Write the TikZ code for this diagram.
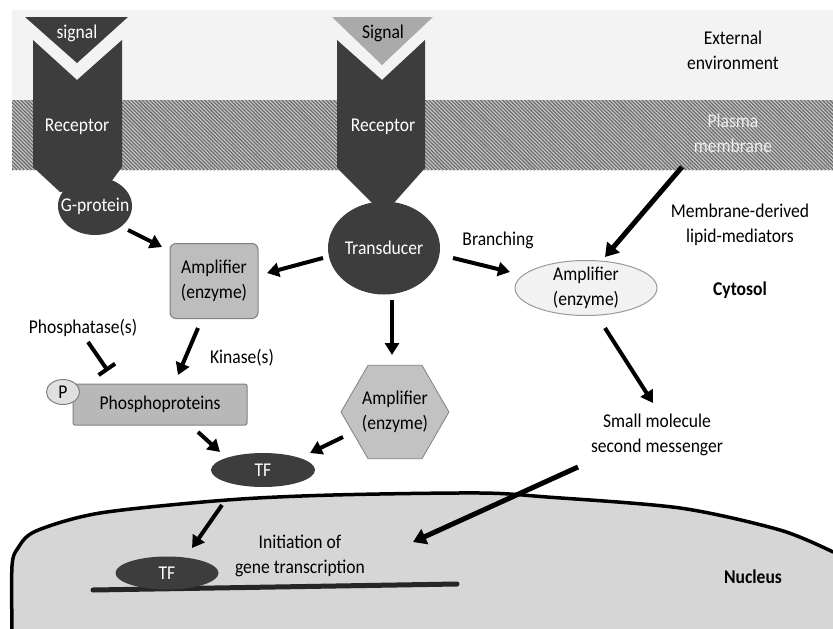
\documentclass[tikz,border=0pt]{standalone}
\usepackage{fontspec}
\setmainfont{Carlito}[FakeStretch=0.9]
\usetikzlibrary{shapes.geometric,arrows.meta,calc,patterns.meta}
\definecolor{dk}{HTML}{3D3D3D}
\definecolor{extc}{HTML}{F3F3F3}
\definecolor{memdk}{HTML}{707070}
\definecolor{memlt}{HTML}{CDCDCD}
\definecolor{sigc}{HTML}{AAAAAA}
\definecolor{ampc}{HTML}{BDBDBD}
\definecolor{ampb}{HTML}{808080}
\definecolor{hexc}{HTML}{C2C2C2}
\definecolor{phc}{HTML}{B8B8B8}
\definecolor{pcc}{HTML}{E0E0E0}
\definecolor{a3c}{HTML}{F2F2F2}
\definecolor{a3b}{HTML}{9A9A9A}
\definecolor{nucc}{HTML}{D6D6D6}
\definecolor{dna}{HTML}{262626}
\definecolor{memtext}{HTML}{EDEDED}
\begin{document}
\begin{tikzpicture}[x=1pt,y=-1pt,
  every node/.style={font=\fontsize{19.5}{25}\selectfont, inner sep=0pt, outer sep=0pt},
  lbl/.style={align=center, text=black},
  wlbl/.style={align=center, text=white},
  bld/.style={align=center, font=\fontsize{19.5}{25}\selectfont\bfseries},
  darkell/.style={ellipse, fill=dk, text=white},
  arr/.style={line width=4pt, -{Triangle[length=12pt,width=14pt]}},
  inhib/.style={line width=4pt, -{Bar[width=20pt]}}]
\useasboundingbox (0,0) rectangle (833,629);
\fill[white] (0,0) rectangle (833,629);
% external environment
\fill[extc] (12,10) rectangle (833,100);
% plasma membrane
\fill[memdk] (12,100) rectangle (833,170);
\fill[pattern={Lines[angle=-45,distance=2.6pt,line width=1pt]}, pattern color=memlt] (12,100) rectangle (833,170);
% nucleus
\fill[nucc] plot[smooth] coordinates {(12,629)(12,566)(18,548)(36,531)(100,513)(227,500)(333,495)(480,493)(547,497)(680,508)(780,530)(833,552)} -- (833,629) -- cycle;
\draw[line width=3.5pt, line cap=round] plot[smooth] coordinates {(12,629)(12,566)(18,548)(36,531)(100,513)(227,500)(333,495)(480,493)(547,497)(680,508)(780,530)(833,552)};
% DNA
\draw[line width=5pt, dna, line cap=round] (93,590) -- (457,584);
% left receptor
\fill[dk] (25,17) -- (128,17) -- (77,63) -- cycle;
\fill[dk] (33,40) -- (77,80) -- (122,40) -- (122,167) -- (108,186) -- (60,192) -- (33,167) -- cycle;
% right receptor
\fill[sigc] (332,17) -- (433,17) -- (382,65) -- cycle;
\fill[dk] (337,40) -- (382,80) -- (425,40) -- (425,168) -- (393,204) -- (373,204) -- (337,168) -- cycle;
% nodes
\node[lbl, text=white] (sig1) at (77,33) {signal};
\node[lbl] (sig2) at (383,33) {Signal};
\node[wlbl] (rec1) at (77,127) {Receptor};
\node[wlbl] (rec2) at (383,127) {Receptor};
\node[darkell, minimum width=74pt, minimum height=58pt] (gprot) at (95,206) {};
\node[wlbl] (gprott) at (gprot) {G-protein};
\node[darkell, minimum width=112pt, minimum height=93pt] (trans) at (384,248) {Transducer};
\node[rectangle, rounded corners=6pt, fill=ampc, draw=ampb, line width=1pt, minimum width=88pt, minimum height=75pt, align=center] (amp1) at (214,281) {Amplifier\\(enzyme)};
\node[regular polygon, regular polygon sides=6, minimum size=104pt, fill=hexc, draw=ampb, line width=0.8pt, align=center] (hex) at (395,412) {Amplifier\\(enzyme)};
\node[ellipse, fill=a3c, draw=a3b, line width=1pt, minimum width=142pt, minimum height=55pt] (amp3) at (586,288) {};
\node[lbl] (amp3t) at (amp3) {Amplifier\\(enzyme)};
\node[rectangle, rounded corners=2pt, fill=phc, draw=ampb, line width=1pt, minimum width=174pt, minimum height=41pt] (phos) at (160,404.5) {Phosphoproteins};
\node[ellipse, fill=pcc, draw=ampb, line width=1pt, minimum width=33pt, minimum height=25pt] (pcirc) at (63,392) {P};
\node[darkell, minimum width=104pt, minimum height=34pt] (tf1) at (263,470) {TF};
\node[darkell, minimum width=103pt, minimum height=33pt] (tf2) at (167,573) {TF};
\node[lbl] (ext) at (733,50) {External\\environment};
\node[lbl, text=memtext] (memtxt) at (733,133) {Plasma\\membrane};
\node[lbl] (lipid) at (740,225) {Membrane-derived\\lipid-mediators};
\node[lbl] (branch) at (498,240) {Branching};
\node[bld] (cyto) at (740,290) {Cytosol};
\node[lbl] (ptase) at (83,328) {Phosphatase(s)};
\node[lbl] (kin) at (242,358) {Kinase(s)};
\node[lbl] (smtxt) at (657,435) {Small molecule\\second messenger};
\node[lbl] (init) at (300,556) {Initiation of\\gene transcription};
\node[bld] (nucl) at (753,577) {Nucleus};
\coordinate (nucend) at (413,542);
% connectors
\draw[arr] ($(gprot)+(33,24)$) -- ($(amp1)+(-52,-34)$);
\draw[arr] ($(trans)+(-61,10)$) -- ($(amp1)+(53,-8)$);
\draw[arr] ($(trans)+(8,52)$) -- ($(hex)+(-3,-57)$);
\draw[arr] ($(trans)+(69,10)$) -- ($(amp3)+(-76,-16)$);
\draw[line width=5pt, -{Triangle[length=13pt,width=16pt]}] ($(memtxt)+(-51,34)$) -- ($(amp3)+(19,-31)$);
\draw[arr] ($(amp3)+(19,40)$) -- ($(smtxt)+(-4,-32)$);
\draw[line width=5pt, -{Triangle[length=13pt,width=16pt]}] ($(smtxt)+(-79,32)$) -- (nucend);
\draw[arr] ($(amp1)+(-16,47)$) -- ($(phos)+(18,-29.5)$);
\draw[inhib] ($(ptase)+(5,14)$) -- ($(phos)+(-52,-33.5)$);
\draw[arr] ($(phos)+(38,27.5)$) -- ($(tf1)+(-43,-18)$);
\draw[arr] ($(hex)+(-52,25)$) -- ($(tf1)+(47,-17)$);
\draw[arr] ($(tf1)+(-41,35)$) -- ($(tf2)+(25,-25)$);
\end{tikzpicture}
\end{document}
